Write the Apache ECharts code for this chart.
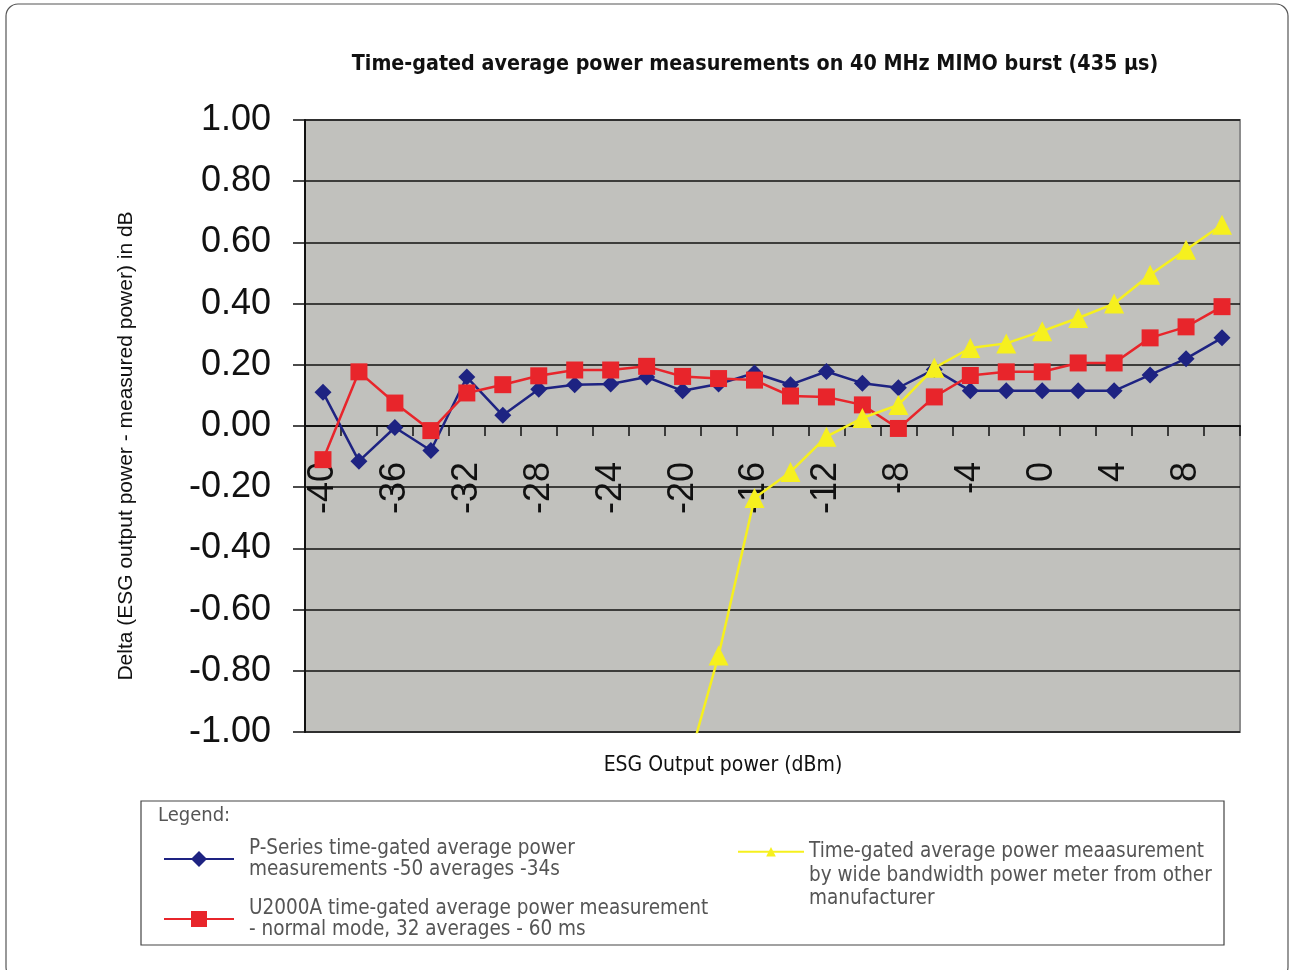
<!DOCTYPE html>
<html>
<head>
<meta charset="utf-8">
<script src="https://cdn.jsdelivr.net/npm/echarts@6/dist/echarts.min.js"></script>
<style>
html,body{margin:0;padding:0;background:#fff;}
#chart{width:1289px;height:970px;}
</style>
</head>
<body>
<div id="chart"></div>
<script>
const categories = ['-40','-38','-36','-34','-32','-30','-28','-26','-24','-22','-20','-18','-16','-14','-12','-10','-8','-6','-4','-2','0','2','4','6','8','10'];
const pSeries = [0.11,-0.115,-0.005,-0.08,0.16,0.035,0.12,0.135,0.137,0.16,0.115,0.137,0.173,0.135,0.178,0.14,0.125,0.185,0.115,0.115,0.115,0.115,0.115,0.167,0.22,0.288];
const u2000a = [-0.11,0.177,0.075,-0.015,0.108,0.135,0.164,0.183,0.183,0.195,0.162,0.155,0.15,0.098,0.095,0.069,-0.008,0.095,0.165,0.177,0.177,0.206,0.206,0.288,0.324,0.39];
const otherMfr = [null,null,null,null,null,null,null,null,null,null,-1.17,-0.75,-0.235,-0.15,-0.035,0.026,0.069,0.19,0.255,0.27,0.31,0.353,0.40,0.494,0.576,0.658];
const yTicks = {min:-1, max:1, interval:0.2};

const nameP = 'P-Series time-gated average power measurements -50 averages -34s';
const nameU = 'U2000A time-gated average power measurement - normal mode, 32 averages - 60 ms';
const nameO = 'Time-gated average power meaasurement by wide bandwidth power meter from other manufacturer';
const legendText = {};
legendText[nameP] = 'P-Series time-gated average power\nmeasurements -50 averages -34s';
legendText[nameU] = 'U2000A time-gated average power measurement\n- normal mode, 32 averages - 60 ms';
legendText[nameO] = '\n\nTime-gated average power meaasurement\nby wide bandwidth power meter from other\nmanufacturer';

const narrow = '"Liberation Sans Narrow", "DejaVu Sans Condensed", "Roboto Condensed", "Liberation Sans", sans-serif';
const arial = '"Liberation Sans", Arial, sans-serif';

const chart = echarts.init(document.getElementById('chart'));
chart.setOption({
  backgroundColor: '#fff',
  animation: false,
  title: [{
    text: 'Time-gated average power measurements on 40 MHz MIMO burst (435 µs)',
    left: 750, top: 49, textAlign: 'center',
    textStyle: {fontFamily: narrow, fontWeight: 'bold', fontSize: 21.3, color: '#111'}
  }, {
    text: 'ESG Output power (dBm)',
    left: 718, top: 750, textAlign: 'center',
    textStyle: {fontFamily: narrow, fontWeight: 'normal', fontSize: 21, color: '#111'}
  }],
  graphic: [{
    type: 'rect', shape: {x: 6, y: 4, width: 1282, height: 975, r: 12},
    style: {fill: 'none', stroke: '#555', lineWidth: 1.2}, silent: true
  }, {
    type: 'rect', shape: {x: 141, y: 801, width: 1083, height: 144},
    style: {fill: 'none', stroke: '#444', lineWidth: 1.2}, silent: true
  }, {
    type: 'text', x: 158, y: 806,
    style: {text: 'Legend:', font: '20px ' + narrow, fill: '#555'}
  }],
  legend: [{
    data: [nameP, nameU],
    orient: 'vertical', left: 158, top: 833,
    itemWidth: 70, itemHeight: 20, itemGap: 18,
    formatter: n => legendText[n],
    textStyle: {fontFamily: narrow, fontSize: 20.5, lineHeight: 21, color: '#555', padding: [0,0,0,10]}
  }, {
    data: [nameO],
    orient: 'vertical', left: 732, top: 788,
    itemWidth: 66, itemHeight: 12,
    formatter: n => legendText[n],
    textStyle: {fontFamily: narrow, fontSize: 20.5, lineHeight: 23.5, color: '#555'}
  }],
  grid: {left: 305, right: 49, top: 120, bottom: 238, show: true, backgroundColor: '#c1c1bd', borderColor: '#8c8c8c', borderWidth: 2},
  xAxis: {
    type: 'category', data: categories, boundaryGap: true,
    position: 'bottom', offset: -306,
    axisLine: {onZero: false, lineStyle: {color: '#111', width: 2}},
    axisTick: {show: true, interval: 0, length: 10, lineStyle: {color: '#111', width: 1.5}},
    axisLabel: {interval: 1, rotate: 90, margin: 36, fontFamily: arial, fontSize: 36, color: '#111'},
    splitLine: {show: false}
  },
  yAxis: {
    type: 'value', min: yTicks.min, max: yTicks.max, interval: yTicks.interval,
    name: 'Delta (ESG output power - measured power) in dB',
    nameLocation: 'middle', nameGap: 168, nameRotate: 90,
    nameTextStyle: {fontFamily: arial, fontSize: 21, color: '#111', padding: [0, 40, 0, 0]},
    axisLine: {show: true, lineStyle: {color: '#111', width: 2}},
    axisTick: {show: true, length: 12, lineStyle: {color: '#111', width: 1.5}},
    axisLabel: {formatter: v => v.toFixed(2), fontFamily: arial, fontSize: 36, color: '#111', margin: 34},
    splitLine: {show: true, lineStyle: {color: '#111', width: 1.5}}
  },
  series: [{
    name: nameP, type: 'line', data: pSeries,
    symbol: 'diamond', symbolSize: 17, showAllSymbol: true,
    lineStyle: {color: '#1e2382', width: 2.5}, itemStyle: {color: '#1e2382'}, z: 3
  }, {
    name: nameU, type: 'line', data: u2000a,
    symbol: 'rect', symbolSize: 17, showAllSymbol: true,
    lineStyle: {color: '#e8252b', width: 2.5}, itemStyle: {color: '#e8252b'}, z: 4
  }, {
    name: nameO, type: 'line', data: otherMfr, clip: true,
    symbol: 'triangle', symbolSize: 20, showAllSymbol: true,
    lineStyle: {color: '#f6f01e', width: 2.5}, itemStyle: {color: '#f6f01e'}, z: 5
  }]
});
</script>
</body>
</html>
